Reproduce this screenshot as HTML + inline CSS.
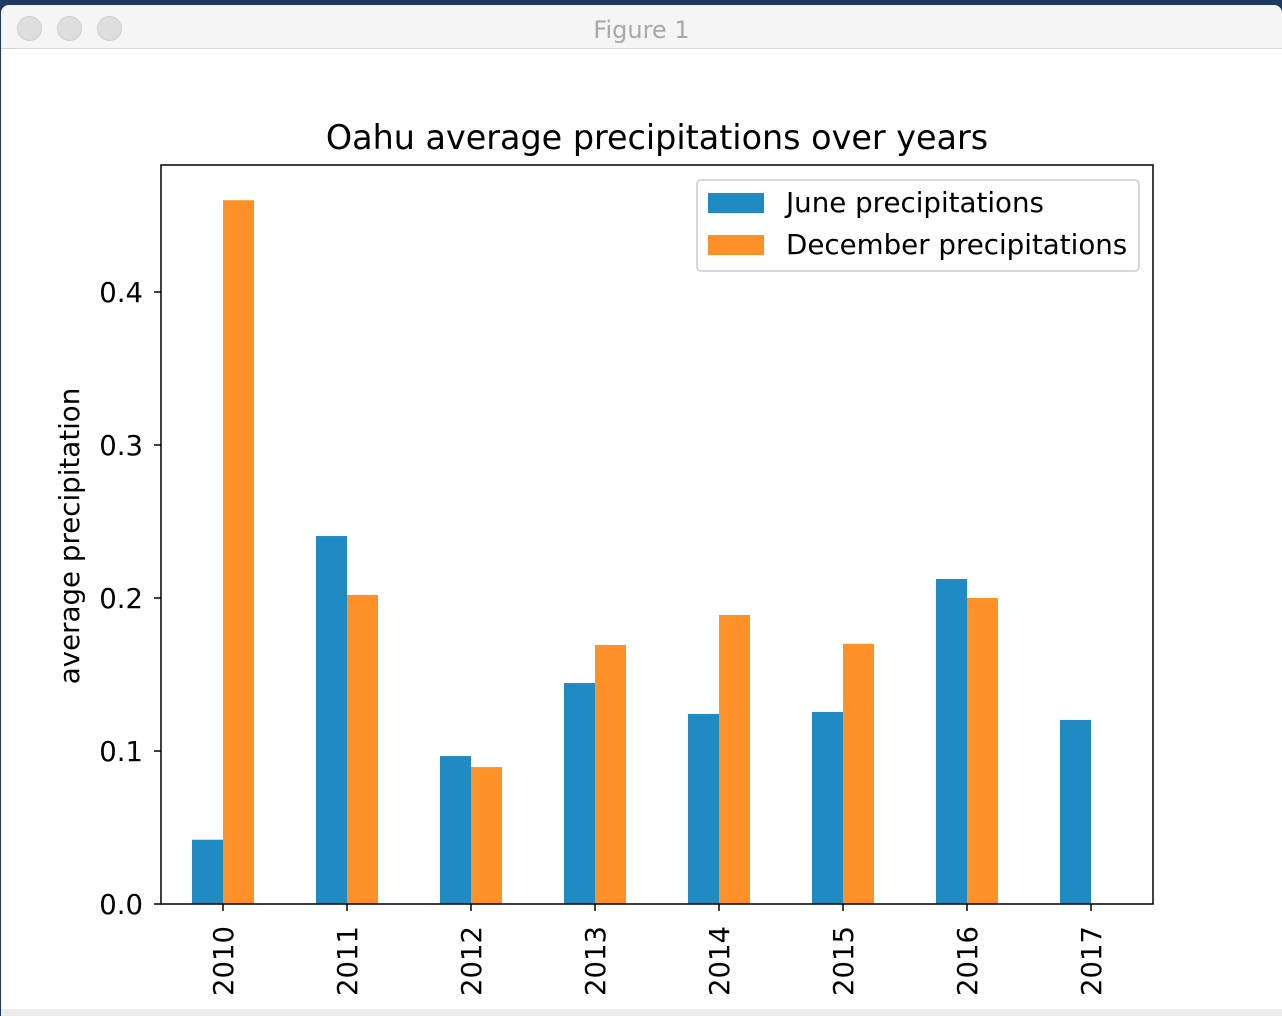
<!DOCTYPE html>
<html><head><meta charset="utf-8"><style>
html,body{margin:0;padding:0;width:1282px;height:1016px;overflow:hidden;background:#1f3a60;font-family:"DejaVu Sans","Liberation Sans",sans-serif;}
#win{position:absolute;left:1px;top:5px;width:1281px;height:1011px;background:#fff;border-radius:8px 8px 0 0;overflow:hidden;}
#titlebar{position:absolute;left:0;top:0;width:100%;height:43px;background:#f5f5f5;border-bottom:1px solid #d6d6d6;}
.dot{position:absolute;top:11px;width:23px;height:23px;border-radius:50%;background:#dedede;border:1px solid #d0d0d0;}
#wt{position:absolute;top:11px;width:100%;text-align:center;color:#a8a8a8;font-size:24px;}
#tool{position:absolute;left:0;top:1004px;width:100%;height:8px;background:#ececec;}
svg{position:absolute;left:0;top:0;}
</style></head><body>
<div id="win">
<div id="titlebar">
<div class="dot" style="left:16px"></div>
<div class="dot" style="left:56px"></div>
<div class="dot" style="left:96px"></div>
<div id="wt">Figure 1</div>
</div>
<div id="tool"></div>
</div>
<svg id="chart" width="1282" height="1016"></svg>
<script>
const years=["2010","2011","2012","2013","2014","2015","2016","2017"];
const june=[0.042,0.2405,0.0967,0.1444,0.1242,0.1255,0.2124,0.1203];
const december=[0.460,0.202,0.0895,0.1693,0.1889,0.170,0.200,0];
const yTicks=[0,0.1,0.2,0.3,0.4];
const yTickLabels=["0.0","0.1","0.2","0.3","0.4"];

const NS="http://www.w3.org/2000/svg";
const svg=document.getElementById('chart');
const L=161,R=1153,T=165,B=904;
function y(v){return B-v*1530;}
function x(i){return 223+i*124;}
function mk(tag,attrs,text){const e=document.createElementNS(NS,tag);for(const k in attrs)e.setAttribute(k,attrs[k]);if(text!==undefined)e.textContent=text;svg.appendChild(e);return e;}
const font='"DejaVu Sans","Liberation Sans",sans-serif';
let t=mk('text',{x:657,y:149,'text-anchor':'middle','font-size':33.4,'font-family':font,fill:'#000'},'Oahu average precipitations over years');


years.forEach((yr,i)=>{
  let b=mk('rect',{x:x(i)-31,y:y(june[i]),width:31,height:B-y(june[i]),fill:'#1f8bc2'});
  
  
  let d=mk('rect',{x:x(i),y:y(december[i]),width:31,height:B-y(december[i]),fill:'#ff9128'});
  
  
  mk('line',{x1:x(i),x2:x(i),y1:B,y2:B+7,stroke:'#000','stroke-width':1.5});
  let l=mk('text',{transform:`translate(${x(i)+10},${B+92}) rotate(-90)`,'font-size':27.5,'font-family':font,fill:'#000'},yr);
  
  
});
yTicks.forEach((v,i)=>{
  mk('line',{x1:L-7,x2:L,y1:y(v),y2:y(v),stroke:'#000','stroke-width':1.5});
  let l=mk('text',{x:L-18,y:y(v)+10,'text-anchor':'end','font-size':27.5,'font-family':font,fill:'#000'},yTickLabels[i]);
  
  
});
let ax=mk('rect',{x:L,y:T,width:R-L,height:B-T,fill:'none',stroke:'#000','stroke-width':1.5});


let yl=mk('text',{transform:'translate(79,536) rotate(-90)','text-anchor':'middle','font-size':27.7,'font-family':font,fill:'#000'},'average precipitation');


let lg=mk('rect',{x:697,y:180,width:442,height:91,rx:4,fill:'#fff','fill-opacity':0.8,stroke:'#ccc','stroke-width':1.5});


mk('rect',{x:708,y:193,width:56,height:20,fill:'#1f8bc2'});
let l1=mk('text',{x:786,y:212,'font-size':27.7,'font-family':font,fill:'#000'},'June precipitations');


mk('rect',{x:708,y:235,width:56,height:20,fill:'#ff9128'});
let l2=mk('text',{x:786,y:254,'font-size':27.7,'font-family':font,fill:'#000'},'December precipitations');


</script>
</body></html>
